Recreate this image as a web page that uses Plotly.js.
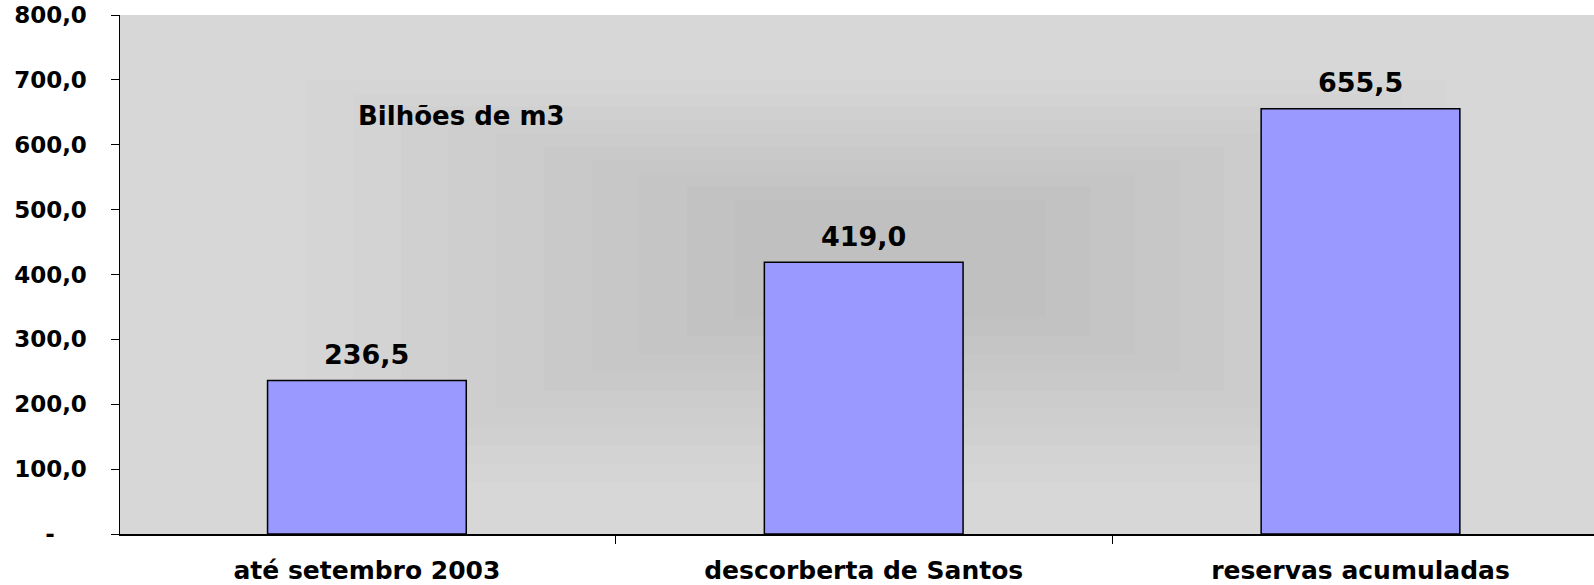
<!DOCTYPE html>
<html>
<head>
<meta charset="utf-8">
<script src="https://cdn.plot.ly/plotly-3.0.1.min.js"></script>
<style>html,body{margin:0;padding:0;background:#fff;overflow:hidden;width:1594px;height:585px;}#chart{width:1594px;height:585px;}</style>
</head>
<body>
<div id="chart"></div>
<script>
const categories = ["até setembro 2003", "descorberta de Santos", "reservas acumuladas"];
const values = [236.5, 419.0, 655.5];
const valueLabels = ["236,5", "419,0", "655,5"];
const yTickVals = [0, 100, 200, 300, 400, 500, 600, 700, 800];
const yTickText = ["-\u00A0\u00A0\u00A0\u00A0", "100,0", "200,0", "300,0", "400,0", "500,0", "600,0", "700,0", "800,0"];

const FONT = 'DejaVu Sans, Liberation Sans, Arial, sans-serif';

// stepped background gradient (decoration only)
const shapes = [{type:'rect', xref:'x domain', yref:'y domain', layer:'below', x0:0, x1:1, y0:0, y1:1, fillcolor:'#d7d7d7', line:{width:0}}];
const nSteps = 10;
const c0 = 213, c1 = 192;
const outer = {x0: 0.126, x1: 0.90, y0: 0.10, y1: 0.875};
const inner = {x0: 0.417, x1: 0.628, y0: 0.418, y1: 0.644};
for (let i = 0; i < nSteps; i++) {
  const t = i / (nSteps - 1);
  const c = Math.round(c0 + (c1 - c0) * t);
  shapes.push({
    type: 'rect', xref: 'x domain', yref: 'y domain', layer: 'below',
    x0: outer.x0 + (inner.x0 - outer.x0) * t, x1: outer.x1 + (inner.x1 - outer.x1) * t,
    y0: outer.y0 + (inner.y0 - outer.y0) * t, y1: outer.y1 + (inner.y1 - outer.y1) * t,
    fillcolor: `rgb(${c},${c},${c})`, line: {width: 0}
  });
}

const trace = {
  type: 'bar',
  x: categories,
  y: values,
  marker: {color: '#9999ff', line: {color: '#000000', width: 1.5}},
  hoverinfo: 'none'
};

const valueAnnotations = categories.map((c, i) => ({
  x: c, y: values[i], xref: 'x', yref: 'y', text: valueLabels[i],
  showarrow: false, xanchor: 'center', yanchor: 'middle', yshift: 26,
  font: {family: FONT, size: 27, weight: 'bold', color: '#000'}
}));

const layout = {
  width: 1594, height: 585,
  margin: {l: 120, r: 0, t: 15, b: 51},
  paper_bgcolor: '#ffffff',
  plot_bgcolor: 'rgba(0,0,0,0)',
  separators: ',.',
  bargap: 0.6,
  showlegend: false,
  font: {family: FONT, color: '#000'},
  xaxis: {
    type: 'category',
    range: [-0.497, 2.47],
    showline: true, linecolor: '#000', linewidth: 1.5,
    ticks: 'outside', tickson: 'boundaries', ticklen: 8, tickcolor: '#000', tickwidth: 1,
    ticklabelstandoff: 13,
    tickfont: {family: FONT, size: 25, weight: 'bold', color: '#000'},
    showgrid: false, zeroline: false
  },
  yaxis: {
    range: [0, 800],
    tickvals: yTickVals, ticktext: yTickText,
    showline: true, linecolor: '#000', linewidth: 1.5,
    ticks: 'outside', ticklen: 8, tickcolor: '#000', tickwidth: 1,
    ticklabelstandoff: 19,
    tickfont: {family: FONT, size: 23, weight: 'bold', color: '#000'},
    showgrid: false, zeroline: false
  },
  shapes: shapes,
  annotations: valueAnnotations.concat([{
    text: 'Bilhões de m3', xref: 'paper', yref: 'y', x: 0.160, y: 644,
    xanchor: 'left', yanchor: 'middle', showarrow: false,
    font: {family: FONT, size: 26, weight: 'bold', color: '#000'}
  }])
};

Plotly.newPlot('chart', [trace], layout, {displayModeBar: false, staticPlot: true});
</script>
</body>
</html>
